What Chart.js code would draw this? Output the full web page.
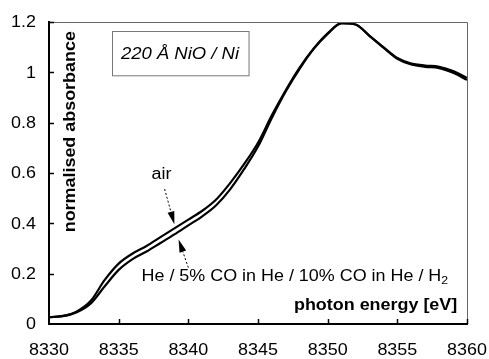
<!DOCTYPE html>
<html>
<head>
<meta charset="utf-8">
<script src="https://cdn.jsdelivr.net/npm/chart.js@4.4.1/dist/chart.umd.min.js"></script>
<style>
  html, body { margin: 0; padding: 0; background: #fff; }
  #wrap { width: 489px; height: 359px; }
</style>
</head>
<body>
<div id="wrap"><canvas id="xanesChart" width="489" height="359"></canvas></div>
<script>
// photon energy (eV)
var energy = [8330, 8331, 8332, 8333, 8334, 8335, 8336, 8337, 8338, 8339, 8340,
  8341, 8342, 8343, 8344, 8345, 8346, 8347, 8348, 8349, 8350,
  8351, 8352, 8353, 8354, 8355, 8356, 8357, 8358, 8359, 8360];

// upper curve (air)
var airAbs = [0.027, 0.032, 0.050, 0.092, 0.175, 0.240, 0.280, 0.310, 0.345, 0.380, 0.415,
  0.450, 0.495, 0.560, 0.635, 0.720, 0.830, 0.930, 1.020, 1.095, 1.155,
  1.196, 1.190, 1.145, 1.100, 1.057, 1.035, 1.027, 1.022, 1.005, 0.978];

// lower curve (He / CO in He / H2)
var reducedAbs = [0.027, 0.031, 0.047, 0.082, 0.150, 0.215, 0.258, 0.288, 0.322, 0.356, 0.392,
  0.428, 0.472, 0.535, 0.615, 0.705, 0.820, 0.925, 1.015, 1.093, 1.153,
  1.194, 1.190, 1.145, 1.098, 1.054, 1.031, 1.022, 1.017, 0.998, 0.970];

var xTicks = [8330, 8335, 8340, 8345, 8350, 8355, 8360];
var yTicks = [0, 0.2, 0.4, 0.6, 0.8, 1, 1.2];
var yTickLabels = ["0", "0.2", "0.4", "0.6", "0.8", "1", "1.2"];

var FONT = "'Liberation Sans', Arial, sans-serif";
var STRETCH = 1.12; // the scanned lettering is a bit wider than Arial

function toPoints(xs, ys) {
  return xs.map(function (x, i) { return { x: x, y: ys[i] }; });
}

// text drawn with a slight horizontal stretch
function wideText(ctx, txt, x, y, align) {
  var w = ctx.measureText(txt).width * STRETCH;
  var left = align === "right" ? x - w : align === "center" ? x - w / 2 : x;
  ctx.save();
  ctx.textAlign = "left";
  ctx.translate(left, y);
  ctx.scale(STRETCH, 1);
  ctx.fillText(txt, 0, 0);
  ctx.restore();
  return w;
}

function arrow(ctx, x1, y1, x2, y2) {
  // dashed shaft, solid head at (x2, y2)
  var ang = Math.atan2(y2 - y1, x2 - x1);
  var hl = 13, hw = 3.5;
  var bx = x2 - hl * Math.cos(ang), by = y2 - hl * Math.sin(ang);
  ctx.save();
  ctx.strokeStyle = "#000";
  ctx.lineWidth = 1;
  ctx.setLineDash([2, 2]);
  ctx.beginPath();
  ctx.moveTo(x1, y1);
  ctx.lineTo(bx, by);
  ctx.stroke();
  ctx.setLineDash([]);
  ctx.fillStyle = "#000";
  ctx.beginPath();
  ctx.moveTo(x2, y2);
  ctx.lineTo(bx + hw * Math.sin(ang), by - hw * Math.cos(ang));
  ctx.lineTo(bx - hw * Math.sin(ang), by + hw * Math.cos(ang));
  ctx.closePath();
  ctx.fill();
  ctx.restore();
}

var extras = {
  id: "extras",
  afterDraw: function (chart) {
    var ctx = chart.ctx;
    var xs = chart.scales.x, ys = chart.scales.y;
    var a = chart.chartArea;
    var px = function (e) { return xs.getPixelForValue(e); };
    var py = function (v) { return ys.getPixelForValue(v); };

    ctx.save();
    // thin frame top / right
    ctx.strokeStyle = "#666";
    ctx.lineWidth = 1;
    ctx.beginPath();
    ctx.moveTo(a.left, a.top + 0.5);
    ctx.lineTo(a.right + 0.5, a.top + 0.5);
    ctx.lineTo(a.right + 0.5, a.bottom);
    ctx.stroke();

    // inward tick marks
    ctx.strokeStyle = "#000";
    ctx.lineWidth = 1.5;
    ctx.beginPath();
    yTicks.forEach(function (t) {
      if (t === 0) return;
      ctx.moveTo(a.left, Math.round(py(t)) + 0.5);
      ctx.lineTo(a.left + 5, Math.round(py(t)) + 0.5);
    });
    xTicks.forEach(function (t) {
      if (t === 8330) return;
      ctx.moveTo(Math.round(px(t)) + 0.5, a.bottom);
      ctx.lineTo(Math.round(px(t)) + 0.5, a.bottom - 5);
    });
    ctx.stroke();

    // tick labels
    ctx.fillStyle = "#000";
    ctx.font = "16px " + FONT;
    ctx.textBaseline = "middle";
    yTicks.forEach(function (t, i) {
      wideText(ctx, yTickLabels[i], a.left - 13, py(t) + 1, "right");
    });
    xTicks.forEach(function (t) {
      wideText(ctx, String(t), px(t), a.bottom + 27, "center");
    });

    // sample label box
    var bx1 = px(8334.5), bx2 = px(8344.3), by1 = py(1.164), by2 = py(0.988);
    ctx.strokeStyle = "#777";
    ctx.lineWidth = 1;
    ctx.strokeRect(Math.round(bx1) + 0.5, Math.round(by1) + 0.5, bx2 - bx1, by2 - by1);
    ctx.font = "italic 16.5px " + FONT;
    wideText(ctx, "220 \u00C5 NiO / Ni", (bx1 + bx2) / 2, (by1 + by2) / 2 + 1, "center");

    // axis titles inside the plot
    ctx.font = "bold 16px " + FONT;
    ctx.save();
    ctx.translate(px(8331.55), py(0.764));
    ctx.rotate(-Math.PI / 2);
    wideText(ctx, "normalised absorbance", 0, 0, "center");
    ctx.restore();
    wideText(ctx, "photon energy [eV]", px(8359.3), py(0.072), "right");

    // curve labels
    ctx.font = "16px " + FONT;
    wideText(ctx, "air", px(8338.07), py(0.592), "center");
    var lx = px(8336.64), ly = py(0.188);
    var w = wideText(ctx, "He / 5% CO in He / 10% CO in He / H", lx, ly, "left");
    ctx.font = "11px " + FONT;
    wideText(ctx, "2", lx + w, ly + 4, "left");

    // arrows
    arrow(ctx, px(8338.3), py(0.536), px(8339.0), py(0.396));
    arrow(ctx, px(8340.0), py(0.224), px(8339.3), py(0.336));
    ctx.restore();
  }
};

var chart = new Chart(document.getElementById("xanesChart").getContext("2d"), {
  type: "line",
  data: {
    datasets: [{
      label: "air",
      data: toPoints(energy, airAbs),
      borderColor: "#000",
      borderWidth: 2.2,
      pointRadius: 0,
      cubicInterpolationMode: "monotone",
      fill: false
    }, {
      label: "He / CO / H2",
      data: toPoints(energy, reducedAbs),
      borderColor: "#000",
      borderWidth: 2.2,
      pointRadius: 0,
      cubicInterpolationMode: "monotone",
      fill: false
    }]
  },
  options: {
    responsive: false,
    animation: false,
    layout: { padding: { top: 22, right: 22, left: 49, bottom: 35 } },
    plugins: { legend: { display: false }, tooltip: { enabled: false } },
    scales: {
      x: {
        type: "linear",
        min: 8330,
        max: 8360,
        afterFit: function (s) { s.height = 0; s.paddingLeft = 0; s.paddingRight = 0; },
        grid: { display: false, drawTicks: false },
        border: { display: true, color: "#000", width: 2 },
        ticks: { display: false }
      },
      y: {
        min: 0,
        max: 1.2,
        afterFit: function (s) { s.width = 0; s.paddingTop = 0; s.paddingBottom = 0; },
        grid: { display: false, drawTicks: false },
        border: { display: true, color: "#000", width: 2 },
        ticks: { display: false }
      }
    }
  },
  plugins: [extras]
});
</script>
</body>
</html>
